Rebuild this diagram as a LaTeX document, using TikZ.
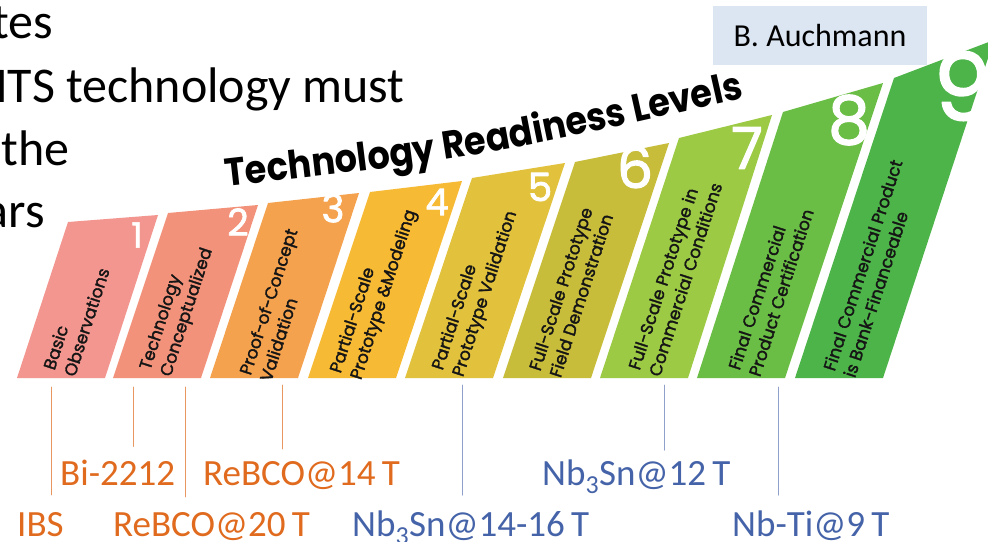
\documentclass[tikz,border=0pt]{standalone}
\usepackage{fontspec}
\setmainfont{Carlito}
\newfontfamily\trlfont{Poppins}[FakeBold=1.8]
\newfontfamily\trltitle{Poppins}[FakeStretch=0.9]
\usetikzlibrary{calc,decorations.text}
\definecolor{trlOne}{HTML}{F3968F}
\definecolor{trlTwo}{HTML}{F3927A}
\definecolor{trlThree}{HTML}{F5A24E}
\definecolor{trlFour}{HTML}{F7BA35}
\definecolor{trlFive}{HTML}{E2C23D}
\definecolor{trlSix}{HTML}{C8BD3B}
\definecolor{trlSeven}{HTML}{9CCA44}
\definecolor{trlEight}{HTML}{6BBE45}
\definecolor{trlNine}{HTML}{4DB449}
\definecolor{htsOrange}{HTML}{E06A1E}
\definecolor{ltsBlue}{HTML}{4563A8}
\definecolor{nameBox}{HTML}{DCE6F2}
\definecolor{trlInk}{HTML}{151515}

\begin{document}
\begin{tikzpicture}[x=1pt,y=-1pt,line cap=round,line join=round]
\useasboundingbox (0,0) rectangle (988,541);
\path[fill=white] (0,0) rectangle (988,541);
\clip (0,0) rectangle (988,541);
\tikzset{slide/.style={inner sep=0pt,anchor=base east,text=black,font=\fontsize{50}{60}\selectfont},num/.style={text=white,inner sep=0pt},lvl/.style={rotate=72,anchor=north west,align=left,inner sep=0pt,text=trlInk,font=\trlfont\fontsize{17}{21.5}\selectfont},hts/.style={text=htsOrange,inner sep=0pt,anchor=base west,font=\fontsize{37}{44}\selectfont},lts/.style={hts,text=ltsBlue},htstick/.style={draw=htsOrange!70,line width=1pt},ltstick/.style={draw=ltsBlue!60,line width=1pt}}
% slide text behind the graphic
\node[slide] (s1) at (53,38) {tes};
\node[slide] (s2) at (405,102) {HTS technology must};
\node[slide] (s3) at (70,165) {the};
\node[slide] (s4) at (45,227) {ars};
\node[fill=nameBox,minimum width=214pt,minimum height=59pt,inner sep=0pt,font=\fontsize{32}{38}\selectfont] (author) at (820,35.5) {B. Auchmann};
% readiness bars
\path[fill=trlOne] (17,378) -- (68,222) -- (158,215) -- (105,378) -- cycle;
\path[fill=trlTwo] (113,378) -- (168,213) -- (258,205) -- (201,378) -- cycle;
\path[fill=trlThree] (210,378) -- (268,203) -- (359,193) -- (298,378) -- cycle;
\path[fill=trlFour] (308,378) -- (370,192) -- (462,181) -- (396,378) -- cycle;
\path[fill=trlFive] (405,378) -- (472,178) -- (565,163) -- (493,378) -- cycle;
\path[fill=trlSix] (503,378) -- (575,162) -- (669,143) -- (591,378) -- cycle;
\path[fill=trlSeven] (600,378) -- (679,138) -- (772,115) -- (688,378) -- cycle;
\path[fill=trlEight] (697,378) -- (783,112) -- (883,83) -- (785,378) -- cycle;
\path[fill=trlNine] (795,378) -- (894,78) -- (994,40) -- (883,378) -- cycle;
\node[num,font=\trlfont\fontsize{35}{35}\selectfont] (n1) at (137,235) {1};
\node[num,font=\trlfont\fontsize{37}{37}\selectfont] (n2) at (238,222) {2};
\node[num,font=\trlfont\fontsize{39}{39}\selectfont] (n3) at (333,208) {3};
\node[num,font=\trlfont\fontsize{37}{37}\selectfont] (n4) at (437,202) {4};
\node[num,font=\trlfont\fontsize{39}{39}\selectfont] (n5) at (540,187) {5};
\node[num,font=\trlfont\fontsize{57}{57}\selectfont] (n6) at (635,167) {6};
\node[num,font=\trlfont\fontsize{58}{58}\selectfont] (n7) at (747,148) {7};
\node[num,font=\trlfont\fontsize{67}{67}\selectfont] (n8) at (849,120) {8};
\node[num,font=\trlfont\fontsize{94}{94}\selectfont] (n9) at (963,86) {9};
\node[lvl] (lv1) at (42,367) {Basic\\Observations};
\node[lvl] (lv2) at (138,367) {Technology\\Conceptualized};
\node[lvl] (lv3) at (238,372) {Proof-of-Concept\\Validation};
\node[lvl] (lv4) at (328,370) {Partial-Scale\\Prototype \&Modeling};
\node[lvl] (lv5) at (430,367) {Partial-Scale\\Prototype Validation};
\node[lvl] (lv6) at (528,368) {Full-Scale Prototype\\Field Demonstration};
\node[lvl] (lv7) at (627,367) {Full-Scale Prototype in\\Commercial Conditions};
\node[lvl] (lv8) at (727,367) {Final Commercial\\Product Certification};
\node[lvl] (lv9) at (822,368) {Final Commercial Product\\is Bank-Financeable};
\path[decorate,decoration={text along path,text align=center,text={|\trltitle\bfseries\fontsize{39}{39}\selectfont|Technology Readiness Levels}}] (205,189) .. controls (480,158) .. (765,93);
% conductors
\node[hts] (ibs) at (17,536) {IBS};
\node[hts] (bi) at (60,485) {Bi-2212};
\node[hts] (rb20) at (113,536) {ReBCO@20\,T};
\node[hts] (rb14) at (203,485) {ReBCO@14\,T};
\node[lts] (nb1416) at (352,536) {Nb\textsubscript{3}Sn@14-16\,T};
\node[lts] (nb12) at (542,485) {Nb\textsubscript{3}Sn@12\,T};
\node[lts] (nbti) at (732,536) {Nb-Ti@9\,T};
\coordinate (k1) at (51,387); \coordinate (k2) at (133,387); \coordinate (k3) at (185,387); \coordinate (k4) at (282,385);
\coordinate (k5) at (462,385); \coordinate (k6) at (664,385); \coordinate (k7) at (778,387);
\draw[htstick,shorten >=17pt] (k1) -- (k1 |- ibs.north);
\draw[htstick,shorten >=13pt] (k2) -- (k2 |- bi.north);
\draw[htstick,shorten >=15pt] (k3) -- (k3 |- rb20.north);
\draw[htstick,shorten >=12pt] (k4) -- (k4 |- rb14.north);
\draw[ltstick,shorten >=15pt] (k5) -- (k5 |- nb1416.north);
\draw[ltstick,shorten >=9pt] (k6) -- (k6 |- nb12.north);
\draw[ltstick,shorten >=15pt] (k7) -- (k7 |- nbti.north);
\end{tikzpicture}
\end{document}
